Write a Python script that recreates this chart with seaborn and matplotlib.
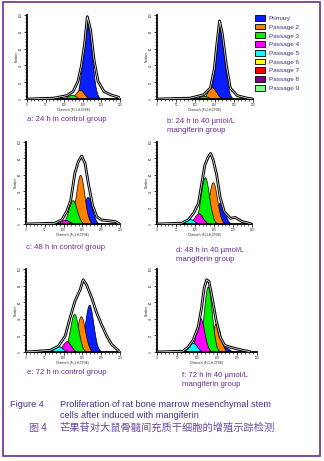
#!/usr/bin/env python3
# CFSE proliferation panels (ModFit style), six histograms + legend + caption

import numpy as np
import pandas as pd
import seaborn as sns
import matplotlib
matplotlib.use('Agg')
import matplotlib.pyplot as plt
from matplotlib.patches import Patch, Rectangle
from matplotlib.ticker import MultipleLocator

# Data =========================================================================

passages = ['Primary', 'Passage 2', 'Passage 3', 'Passage 4', 'Passage 5',
            'Passage 6', 'Passage 7', 'Passage 8', 'Passage 9']
passage_colors = ['#0a1eff', '#ff8000', '#00f000', '#ff00ff', '#00ffff',
                  '#ffff00', '#ff0000', '#800080', '#80ff80']

panel_labels = [
    'a: 24 h in control group',
    'b: 24 h in 40 \u00b5mol/L\nmangiferin group',
    'c: 48 h in control group',
    'd: 48 h in 40 \u00b5mol/L\nmangiferin group',
    'e: 72 h in control group',
    'f: 72 h in 40 \u00b5mol/L\nmangiferin group',
]

# measured histogram outline: channel, % of axis height
env_a_ch = [0, 71, 107, 124, 137, 146, 155, 162, 171, 180, 191, 207, 225, 247, 250]
env_a_pct = [0, 1, 4, 9, 21, 39, 66, 98, 82, 47, 21, 9, 5, 2, 0]
env_b_ch = [0, 86, 121, 139, 149, 156, 163, 170, 181, 191, 209, 235, 250]
env_b_pct = [0, 1, 5, 13, 35, 66, 93, 78, 39, 13, 4, 1, 0]
env_c_ch = [0, 77, 95, 108, 119, 130, 139, 148, 157, 166, 177, 188, 201, 219, 237, 248]
env_c_pct = [0, 1, 5, 15, 29, 62, 76, 83, 74, 49, 23, 9, 5, 4, 3, 0.5]
env_d_ch = [0, 65, 82, 96, 109, 118, 126, 135, 141, 148, 157, 166, 177, 193, 206, 224, 246]
env_d_pct = [0, 1, 5, 13, 25, 50, 72, 82, 86, 78, 60, 33, 15, 7, 8, 3, 0.5]
env_e_ch = [0, 64, 86, 104, 117, 130, 144, 152, 161, 175, 188, 201, 215, 228, 245, 250]
env_e_pct = [0, 2, 7, 19, 41, 61, 75, 87, 81, 65, 47, 33, 19, 9, 2, 0]
env_f_ch = [0, 65, 78, 90, 103, 111, 118, 124, 130, 138, 148, 158, 169, 182, 198, 215, 232]
env_f_pct = [0, 1, 6, 14, 30, 52, 77, 87, 85, 65, 38, 18, 8, 6, 4, 2, 0.5]

# fitted generation peaks: passage index, centre channel, height %, sd
peaks_a = [(0, 162, 97, 11.5), (1, 142, 11, 11), (2, 120, 5, 11), (4, 100, 1, 11)]
peaks_b = [(0, 163, 91, 11.5), (1, 143, 14, 11), (2, 121, 4, 11), (4, 98, 1, 11)]
peaks_c = [(0, 164, 33, 11), (1, 144, 60, 11), (2, 124, 29, 11), (3, 104, 5, 11)]
peaks_d = [(0, 166, 26, 11), (1, 147, 51, 11), (2, 126, 57, 11), (3, 109, 13, 11),
           (4, 87, 6, 11)]
peaks_e = [(0, 168, 57, 11), (1, 146, 43, 11), (2, 128, 46, 11), (3, 108, 13, 11),
           (4, 86, 7, 11), (6, 46, 1, 11)]
peaks_f = [(0, 169, 6, 10), (1, 148, 35, 10), (2, 127, 79, 10), (3, 108, 41, 10),
           (4, 90, 11, 10)]

caption_en = ['Figure 4', 'Proliferation of rat bone marrow mesenchymal stem',
              'cells after induced with mangiferin']
caption_cn = ['\u56fe 4', '\u8292\u679c\u82f7\u5bf9\u5927\u9f20\u9aa8\u9ad3\u95f4'
              '\u5145\u8d28\u5e72\u7ec6\u80de\u7684\u589e\u6b96\u793a\u8e2a\u68c0\u6d4b']

# Layout (pixels) ==============================================================

W, H = 324, 461
PURPLE = '#6a2d8c'
# left, top, right, bottom
boxes = [(27, 15, 120, 99), (157, 15, 253, 99),
         (26, 142, 120, 224), (157, 142, 252, 224),
         (26, 269, 120, 352), (157, 269, 257, 352)]
label_xy = [(27, 119), (167, 118), (26, 247), (176, 247), (27, 372), (182, 372)]


def fx(x):
    return x / W


def fy(y):
    return 1 - y / H


def draw_panel(ax, env_ch, env_pct, peaks):
    ch = np.linspace(0, 250, 501)
    # primary first, later passages drawn over it
    for idx, c, h, sd in peaks:
        xs = ch[np.abs(ch - c) <= 2.8 * sd]
        ys = h * np.exp(-0.5 * ((xs - c) / sd) ** 2)
        ax.fill_between(xs, ys, 0, facecolor=passage_colors[idx],
                        edgecolor='black', linewidth=0.5, zorder=2)
    env = pd.DataFrame({'ch': env_ch, 'pct': env_pct})
    sns.lineplot(data=env, x='ch', y='pct', ax=ax, color='black',
                 linewidth=2.0, zorder=3)
    sns.lineplot(data=env, x='ch', y='pct', ax=ax, color='white',
                 linewidth=0.5, zorder=4)
    ax.set_xlim(0, 250)
    ax.set_ylim(0, 100)
    ax.xaxis.set_major_locator(MultipleLocator(50))
    ax.xaxis.set_minor_locator(MultipleLocator(10))
    ax.yaxis.set_major_locator(MultipleLocator(20))
    ax.yaxis.set_minor_locator(MultipleLocator(4))
    ax.tick_params(which='major', length=2, width=0.6, labelsize=2, pad=0.8)
    ax.tick_params(which='minor', length=1.2, width=0.5)
    for lab in ax.get_yticklabels():
        lab.set_rotation(90)
        lab.set_va('center')
    ax.set_xlabel('Channels (FL1-H-CFSE)', fontsize=2.2, labelpad=0.6)
    ax.set_ylabel('Number', fontsize=2.2, labelpad=0.6)
    for s in ('left', 'bottom'):
        ax.spines[s].set_linewidth(1.3)
        ax.spines[s].set_color('black')
    sns.despine(ax=ax)


def main():
    sns.set_style('ticks')
    plt.rcParams['font.family'] = ['Liberation Sans', 'DejaVu Sans']
    fig = plt.figure(figsize=(W / 100, H / 100), dpi=100)

    envs = [(env_a_ch, env_a_pct), (env_b_ch, env_b_pct), (env_c_ch, env_c_pct),
            (env_d_ch, env_d_pct), (env_e_ch, env_e_pct), (env_f_ch, env_f_pct)]
    peaks = [peaks_a, peaks_b, peaks_c, peaks_d, peaks_e, peaks_f]
    for i, (l, t, r, b) in enumerate(boxes):
        ax = fig.add_axes([fx(l), fy(b), fx(r - l), (b - t) / H])
        draw_panel(ax, envs[i][0], envs[i][1], peaks[i])
        lx, ly = label_xy[i]
        fig.text(fx(lx), fy(ly), panel_labels[i], fontsize=5.6, color=PURPLE,
                 ha='left', va='top' if '\n' in panel_labels[i] else 'center',
                 linespacing=1.35)

    handles = [Patch(facecolor=c, edgecolor='black', linewidth=0.6)
               for c in passage_colors]
    fig.legend(handles, passages, loc='upper left',
               bbox_to_anchor=(fx(255), fy(15)), frameon=False, fontsize=4.6,
               handlelength=1.55, handleheight=1.0, handletextpad=0.6,
               labelspacing=0.42, borderpad=0, borderaxespad=0,
               labelcolor='#4a2a7a')

    cap_color = '#4b2d80'
    fig.text(fx(10), fy(404), caption_en[0], fontsize=6.6, color=cap_color,
             va='center')
    fig.text(fx(60), fy(404), caption_en[1], fontsize=6.6, color=cap_color,
             va='center')
    fig.text(fx(60), fy(415.5), caption_en[2], fontsize=6.6, color=cap_color,
             va='center')
    fig.text(fx(29), fy(427.5), caption_cn[0], fontsize=7.2, color='#6a4c9a',
             va='center', family=['Noto Sans CJK SC', 'DejaVu Sans'])
    fig.text(fx(59), fy(427.5), caption_cn[1], fontsize=7.4, color='#6a4c9a',
             va='center', family=['Noto Sans CJK SC', 'DejaVu Sans'])

    fig.patches.append(Rectangle((fx(2.5), fy(455.5)), fx(317), (453) / H,
                                 transform=fig.transFigure, fill=False,
                                 edgecolor=PURPLE, linewidth=1.2))
    fig.savefig('out.png', dpi=100)


if __name__ == '__main__':
    main()
